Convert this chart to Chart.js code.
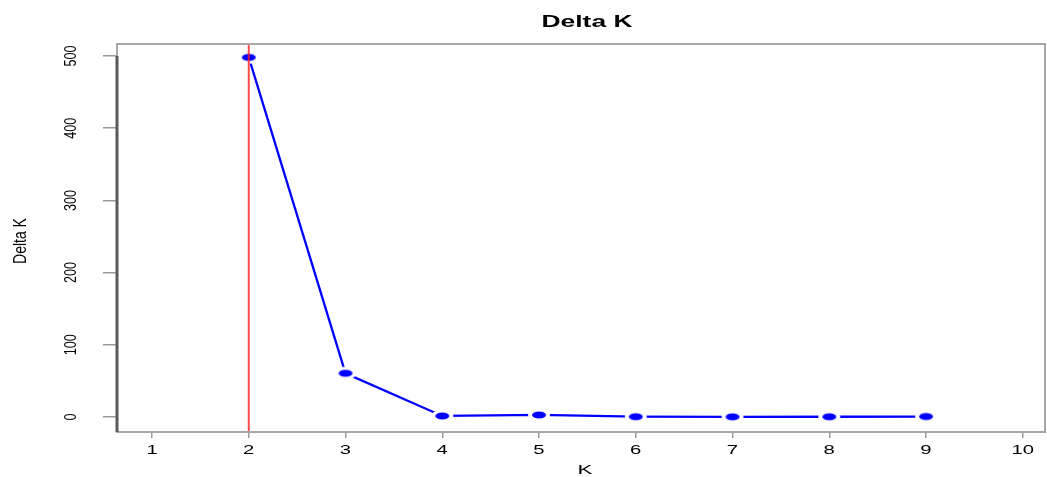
<!DOCTYPE html>
<html>
<head>
<meta charset="utf-8">
<script src="https://cdn.jsdelivr.net/npm/chart.js@4.4.1/dist/chart.umd.min.js"></script>
<style>
html,body{margin:0;padding:0;background:#fff;}
canvas{display:block;}
</style>
</head>
<body>
<canvas id="c" width="1047" height="477"></canvas>
<script>
// ---- data ----
const kValues = [2, 3, 4, 5, 6, 7, 8, 9];
const deltaK = [498, 60.5, 1.4, 2.8, 0.4, 0.2, 0.3, 0.6];
const xTickLabels = [1, 2, 3, 4, 5, 6, 7, 8, 9, 10];
const yTickLabels = [0, 100, 200, 300, 400, 500];
const bestK = 2;
const chartTitle = 'Delta K';
const xTitle = 'K';
const yTitle = 'Delta K';

// point marker: blue ellipse with white halo (R type="b" gap)
function makePoint() {
  const c = document.createElement('canvas');
  c.width = 24; c.height = 14;
  const g = c.getContext('2d');
  g.fillStyle = '#ffffff';
  g.beginPath(); g.ellipse(12, 7, 11, 6.5, 0, 0, Math.PI * 2); g.fill();
  g.fillStyle = '#0000ff';
  g.beginPath(); g.ellipse(12, 7, 7, 3.5, 0, 0, Math.PI * 2); g.fill();
  return c;
}

function drawText(ctx, text, cx, cy, opt) {
  const f = opt.size;
  ctx.save();
  ctx.translate(cx, cy);
  if (opt.rot) ctx.rotate(opt.rot);
  ctx.scale(opt.sx, opt.sy);
  ctx.font = (opt.bold ? 'bold ' : '') + f + 'px "Liberation Sans", Arial, sans-serif';
  ctx.fillStyle = opt.color || '#000';
  ctx.textAlign = 'center';
  ctx.textBaseline = 'alphabetic';
  ctx.fillText(text, 0, 0.36 * f);
  ctx.restore();
}

const decor = {
  id: 'decor',
  beforeDraw(chart) {
    const ctx = chart.ctx;
    ctx.save();
    ctx.fillStyle = '#fff';
    ctx.fillRect(0, 0, chart.width, chart.height);
    ctx.restore();
  },
  afterDatasetsDraw(chart) {
    const ctx = chart.ctx;
    const a = chart.chartArea;
    const xs = chart.scales.x, ys = chart.scales.y;
    // red vertical line at best K
    const px = xs.getPixelForValue(bestK);
    ctx.save();
    ctx.strokeStyle = 'rgba(255,30,30,0.8)';
    ctx.lineWidth = 2;
    ctx.beginPath(); ctx.moveTo(px, a.top); ctx.lineTo(px, a.bottom); ctx.stroke();
    // box
    ctx.strokeStyle = '#a8a8a8';
    ctx.lineWidth = 2;
    ctx.strokeRect(a.left, a.top, a.right - a.left, a.bottom - a.top);
    // left axis line (dark)
    ctx.strokeStyle = '#5a5a5a';
    ctx.lineWidth = 3;
    ctx.beginPath();
    ctx.moveTo(a.left, ys.getPixelForValue(yTickLabels[yTickLabels.length - 1]));
    ctx.lineTo(a.left, a.bottom);
    ctx.stroke();
    ctx.restore();
  },
  afterDraw(chart) {
    const ctx = chart.ctx;
    const a = chart.chartArea;
    const xs = chart.scales.x, ys = chart.scales.y;
    const cx = (a.left + a.right) / 2;
    xTickLabels.forEach(v => {
      drawText(ctx, String(v), xs.getPixelForValue(v), 449, {size: 14, sx: 1.45, sy: 0.9, color: '#000'});
    });
    yTickLabels.forEach(v => {
      drawText(ctx, String(v), 69.5, ys.getPixelForValue(v), {size: 14, sx: 0.9, sy: 1.22, rot: -Math.PI / 2, color: '#000'});
    });
    drawText(ctx, chartTitle, cx + 6, 21, {size: 16, bold: true, sx: 1.65, sy: 1.0});
    drawText(ctx, xTitle, cx + 4, 470, {size: 14, sx: 1.6, sy: 0.85, color: '#000'});
    drawText(ctx, yTitle, 19, 241, {size: 14, sx: 1.0, sy: 1.3, rot: -Math.PI / 2, color: '#000'});
  }
};

new Chart(document.getElementById('c'), {
  type: 'line',
  data: {
    datasets: [{
      data: kValues.map((k, i) => ({x: k, y: deltaK[i]})),
      borderColor: '#0000ff',
      backgroundColor: '#0000ff',
      borderWidth: 2.3,
      pointStyle: makePoint(),
      pointRadius: 7,
      pointHoverRadius: 7,
      tension: 0,
      fill: false
    }]
  },
  options: {
    responsive: false,
    animation: false,
    devicePixelRatio: 1,
    events: [],
    layout: {autoPadding: false, padding: {top: 44, right: 2, left: 0, bottom: 0}},
    plugins: {legend: {display: false}, tooltip: {enabled: false}, title: {display: false}},
    scales: {
      x: {
        type: 'linear',
        position: 'bottom',
        min: 0.638,
        max: 10.23,
        afterBuildTicks: s => { s.ticks = xTickLabels.map(v => ({value: v})); },
        afterFit: s => { s.height = 45; s.paddingLeft = 0; s.paddingRight = 0; },
        ticks: {display: false},
        grid: {display: true, drawOnChartArea: false, drawTicks: true, tickLength: 6, color: '#9a9a9a', lineWidth: 1.5},
        border: {display: false}
      },
      y: {
        type: 'linear',
        min: -20.8,
        max: 516.6,
        afterBuildTicks: s => { s.ticks = yTickLabels.map(v => ({value: v})); },
        afterFit: s => { s.width = 117; s.paddingTop = 0; s.paddingBottom = 0; },
        ticks: {display: false},
        grid: {display: true, drawOnChartArea: false, drawTicks: true, tickLength: 14, color: '#9a9a9a', lineWidth: 1.5},
        border: {display: false}
      }
    }
  },
  plugins: [decor]
});
</script>
</body>
</html>
